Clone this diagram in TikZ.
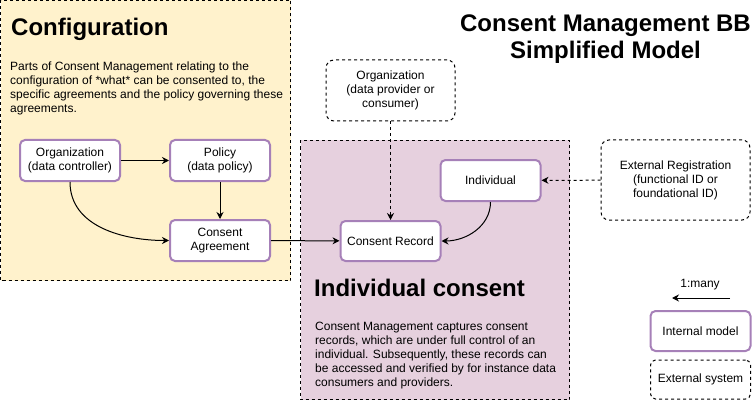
\documentclass[tikz,border=0pt]{standalone}
\usepackage{fontspec}
\setmainfont{Liberation Sans}
\usetikzlibrary{arrows.meta}
\definecolor{cfgfill}{HTML}{FFF2CC}
\definecolor{indfill}{HTML}{E6D0DE}
\definecolor{intline}{HTML}{A680B8}

\begin{document}
\begin{tikzpicture}
[x=1pt,y=-1pt,%
  >={Stealth[length=7pt,width=7pt]},%
  every node/.style={font=\fontsize{12}{14}\selectfont,inner sep=0pt},%
  region/.style={draw,line width=1pt,dash pattern=on 3pt off 3pt},%
  intbox/.style={draw=intline,line width=2pt,fill=white,rounded corners=5pt,%
    minimum width=100pt,minimum height=40pt,align=center,outer sep=1pt},%
  extbox/.style={draw,line width=1pt,dash pattern=on 3pt off 3pt,fill=white,%
    rounded corners=8pt,align=center},%
  link/.style={->,line width=1pt},%
  title/.style={font=\fontsize{24}{27}\selectfont\bfseries,align=center},%
  para/.style={align=left,anchor=north west}]
\useasboundingbox (0,0) rectangle (752,401);
% regions
\draw[region,fill=cfgfill] (0.5,0.5) rectangle (290.5,280.5);
\draw[region,fill=indfill] (300.5,140.5) rectangle (569.5,399.5);
% texts
\node[title,anchor=base west] (cfgtitle) at (11,36) {Configuration};
\node[para] (cfgtext) at (10,62) {Parts of Consent Management relating to the\\
  configuration of *what* can be consented to, the\\
  specific agreements and the policy governing these\\
  agreements.};
\node[title,anchor=base west] (indtitle) at (314,296) {Individual consent};
\node[para] (indtext) at (315,322) {Consent Management captures consent\\
  records, which are under full control of an\\
  individual. Subsequently, these records can\\
  be accessed and verified by for instance data\\
  consumers and providers.};
\node[title,anchor=north] (maintitle) at (605.5,14.5) {Consent Management BB\\Simplified Model};
% model
\node[intbox,minimum height=41pt] (orgc) at (70,160.5) {Organization\\(data controller)};
\node[intbox,minimum height=41pt] (policy) at (220,160.5) {Policy\\(data policy)};
\node[intbox,minimum height=41pt] (agree) at (220,240.5) {Consent\\Agreement};
\node[intbox] (record) at (390.5,241) {Consent Record};
\node[intbox,minimum height=41pt] (indiv) at (490.5,180.5) {Individual};
\node[extbox,minimum width=129pt,minimum height=61pt] (orgp) at (390.5,90.5)
  {Organization\\(data provider or\\consumer)};
\node[extbox,minimum width=149pt,minimum height=80pt] (extreg) at (675.5,180)
  {External Registration\\(functional ID or\\foundational ID)};
% legend
\node (many) at (700,285) {1:many};
\coordinate (lgA) at (730,298);
\coordinate (lgB) at (672,298);
\node[intbox] (lgint) at (700.5,331) {Internal model};
\node[extbox,minimum width=100pt,minimum height=39pt,rounded corners=5pt] (lgext) at (700.5,379.5) {External system};
% connectors
\draw[link] (orgc) -- (policy);
\draw[link] (policy) -- (agree);
\draw[link] (orgc.south) to[out=-90,in=180] (agree.west);
\draw[link] (agree) -- (record);
\draw[link,dash pattern=on 3pt off 3pt] (orgp) -- (record);
\draw[link] (indiv.south) to[out=-90,in=0] (record.east);
\draw[link,dash pattern=on 3pt off 3pt] (extreg) -- (indiv);
\draw[link] (lgA) -- (lgB);
\end{tikzpicture}
\end{document}
